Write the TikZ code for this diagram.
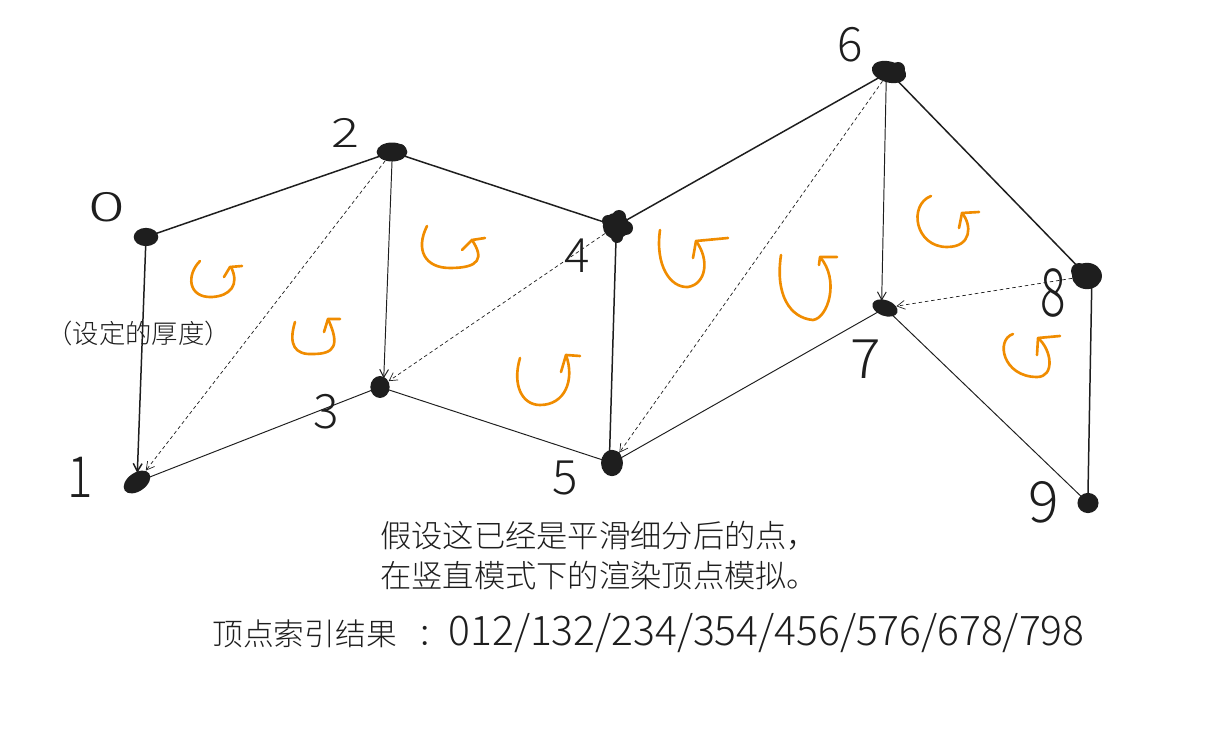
\documentclass[tikz,border=0pt]{standalone}
\usepackage{fontspec}
\usepackage{tikz}
\usetikzlibrary{shapes.geometric}
\usetikzlibrary{arrows.meta}
\setmainfont{Noto Sans CJK SC}[UprightFont=* Light]

\definecolor{ink}{HTML}{1E1E1E}
\definecolor{turnorange}{HTML}{F08C00}

\begin{document}
\begin{tikzpicture}[x=0.02cm, y=-0.02cm, >={Straight Barb[length=4.5pt, width=5pt]},
	vertex/.style={ellipse, fill=ink, inner sep=0pt},
	edgeA/.style={ink, line width=0.85pt, shorten >=-1pt, shorten <=-1pt},
	edgeB/.style={ink, line width=0.55pt, shorten >=-1pt, shorten <=-1pt},
	diag/.style={ink, line width=0.4pt, dash pattern=on 2pt off 1.6pt, ->},
	digit/.style={ink, font=\fontsize{27}{27}\selectfont, inner sep=0pt},
	note/.style={ink, anchor=west, inner sep=0pt},
	turn/.style={turnorange, line width=1.5pt, line cap=round, line join=round}]
	\useasboundingbox (0, 0) rectangle (1210, 746);
	%%
	\node[vertex, minimum width=14pt, minimum height=10.4pt] (v0) at (146, 237) {};
	\node[vertex, minimum width=17pt, minimum height=10.5pt, rotate=35] (v1) at (137, 482) {};
	\node[vertex, minimum width=17.5pt, minimum height=10.8pt] (v2) at (392, 152) {};
	\node[vertex, minimum width=11pt, minimum height=12.5pt] (v3) at (380, 387) {};
	\node[vertex, minimum width=15pt, minimum height=15pt] (v4) at (616, 226) {};
	\node[vertex, minimum width=12.5pt, minimum height=15pt] (v5) at (612, 463) {};
	\node[vertex, minimum width=20pt, minimum height=12pt, rotate=-15] (v6) at (889, 72) {};
	\node[vertex, minimum width=15pt, minimum height=9pt, rotate=-20] (v7) at (885, 308) {};
	\node[vertex, minimum width=17pt, minimum height=15pt] (v8) at (1087, 276) {};
	\node[vertex, minimum width=12pt, minimum height=11.5pt] (v9) at (1088, 503) {};
	%% lumps on the blobs
	\fill[ink] (v2) ++(-8, -2) circle (5) ++(16, 0) circle (6);
	\fill[ink] (v4) ++(-8, -5) circle (6) ++(11, -4) circle (7) ++(7, 11) circle (7) ++(-9, 9) circle (6);
	\fill[ink] (v6) ++(9, -3) circle (7) ++(-11, -3) circle (5);
	\fill[ink] (v8) ++(-8, -5) circle (8) ++(14, 3) circle (8);
	\fill[ink] (v5) ++(4, -7) circle (5);
	%%
	\draw[edgeA] (v0) -- (v2);
	\draw[edgeA] (v2) -- (v4);
	\draw[edgeA] (v4) -- (v6);
	\draw[edgeA] (v6) -- (v8);
	\draw[edgeA] (v8.-70) -- (v9.north);
	\draw[edgeA] (v4.south) -- (v5.100);
	\draw[edgeB] (v1) -- (v3);
	\draw[edgeB] (v3) -- (v5);
	\draw[edgeB] (v5) -- (v7);
	\draw[edgeB] (v7) -- (v9);
	\draw[edgeA, ->] (v0) -- (v1);
	\draw[edgeB, ->] (v2.south) -- (v3.70);
	\draw[edgeB, ->] (v6.south) -- (v7.130);
	%%
	\draw[diag] (v2) -- (v1);
	\draw[diag] (v4) -- (v3);
	\draw[diag] (v6) -- (v5);
	\draw[diag] (v8) -- (v7);
	%%
	\draw[turn] (200, 261) .. controls (186, 275) and (188, 298) .. (212, 297) .. controls (230, 296) and (240, 285) .. (231, 267);
	\draw[turn] (224, 277) -- (230, 267) -- (242, 266);
	\draw[turn] (295, 322) .. controls (288, 345) and (295, 355) .. (313, 354) .. controls (335, 354) and (340, 345) .. (328, 319);
	\draw[turn] (324, 332) -- (328, 319) -- (340, 319);
	\draw[turn] (427, 226) .. controls (415, 250) and (425, 268) .. (450, 268) .. controls (480, 268) and (484, 258) .. (472, 240);
	\draw[turn] (462, 250) -- (472, 240) -- (485, 238);
	\draw[turn] (520, 358) .. controls (512, 385) and (522, 405) .. (540, 405) .. controls (565, 405) and (575, 380) .. (566, 355);
	\draw[turn] (561, 372) -- (566, 355) -- (580, 356);
	\draw[turn] (660, 230) .. controls (655, 265) and (670, 288) .. (688, 287) .. controls (706, 284) and (710, 260) .. (696, 241);
	\draw[turn] (693, 258) -- (696, 241) -- (728, 238);
	\draw[turn] (781, 255) .. controls (775, 295) and (790, 318) .. (813, 320) .. controls (828, 318) and (840, 280) .. (820, 257);
	\draw[turn] (819, 265) -- (820, 257) -- (837, 257);
	\draw[turn] (931, 196) .. controls (908, 205) and (915, 247) .. (947, 247) .. controls (972, 247) and (972, 225) .. (962, 213);
	\draw[turn] (959, 228) -- (962, 213) -- (979, 212);
	\draw[turn] (1013, 334) .. controls (995, 340) and (1003, 377) .. (1037, 377) .. controls (1055, 377) and (1052, 350) .. (1038, 338);
	\draw[turn] (1037, 355) -- (1038, 338) -- (1060, 336);
	%%
	\node[digit, xscale=1.45, yscale=0.85] (n0) at (107, 207) {0};
	\node[digit, yscale=1.2] (n1) at (80, 477) {1};
	\node[digit, xscale=1.1, yscale=0.85] (n2) at (345, 133) {2};
	\node[digit] (n3) at (326, 412) {3};
	\node[digit] (n4) at (577, 256) {4};
	\node[digit] (n5) at (565, 478) {5};
	\node[digit] (n6) at (850, 45) {6};
	\node[digit, xscale=1.2, yscale=1.15] (n7) at (866, 359) {7};
	\node[digit, yscale=1.4] (n8) at (1053, 293) {8};
	\node[digit, xscale=1.2, yscale=1.2] (n9) at (1044, 502) {9};
	%%
	\node[note, font=\fontsize{15}{15}\selectfont] (thick) at (46, 333) {（设定的厚度）};
	\node[note, font=\fontsize{17.8}{17.8}\selectfont] (line1) at (380, 536) {假设这已经是平滑细分后的点，};
	\node[note, font=\fontsize{17.8}{17.8}\selectfont] (line2) at (380, 576) {在竖直模式下的渲染顶点模拟。};
	\node[note, font=\fontsize{17.5}{17.5}\selectfont] (line3) at (212, 633) {顶点索引结果\hspace{12pt}：{\fontsize{23.2}{23.2}\selectfont 012/132/234/354/456/576/678/798}};
\end{tikzpicture}
\end{document}
